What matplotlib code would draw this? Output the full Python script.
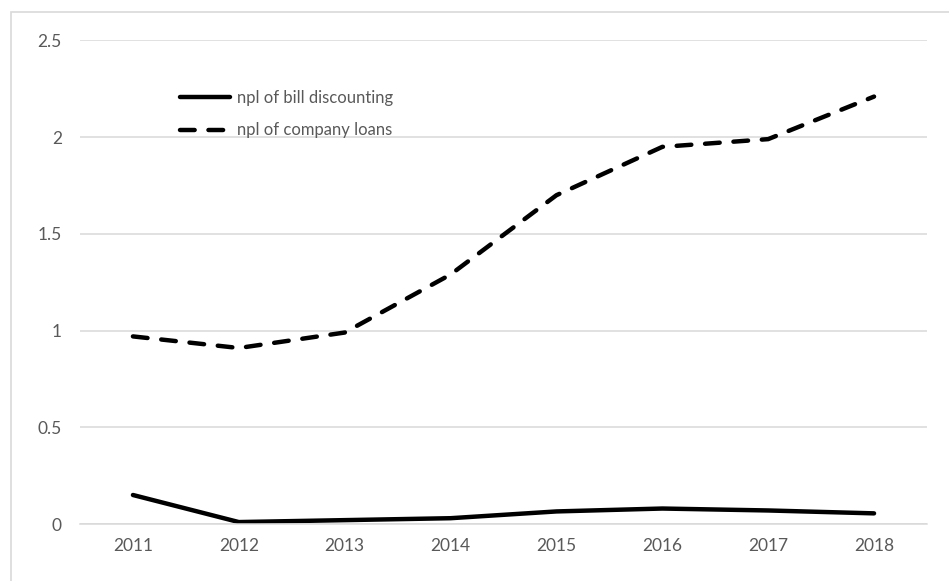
import numpy as np
import matplotlib.pyplot as plt
from matplotlib.patches import Rectangle

years = ["2011", "2012", "2013", "2014", "2015", "2016", "2017", "2018"]
bill_discounting = [0.15, 0.01, 0.02, 0.03, 0.065, 0.08, 0.07, 0.055]
company_loans = [0.97, 0.91, 0.99, 1.29, 1.70, 1.95, 1.99, 2.21]
y_ticks = [0, 0.5, 1, 1.5, 2, 2.5]
y_tick_labels = ["0", "0.5", "1", "1.5", "2", "2.5"]

TEXT = "#595959"
GRID = "#d9d9d9"


def main():
    plt.rcParams["font.family"] = ["Lato", "DejaVu Sans"]
    fig = plt.figure(figsize=(9.49, 5.81), dpi=100)
    ax = fig.add_axes([0.0843, 0.0981, 0.8925, 0.8322])

    # chart-area border (only top/left visible in the reference)
    fig.patches.append(Rectangle((11 / 949, -0.1), 1.2, (581 - 12) / 581 + 0.1,
                                 transform=fig.transFigure, fill=False,
                                 edgecolor=GRID, linewidth=1.2))

    x = np.arange(len(years))
    ax.plot(x, bill_discounting, color="black", lw=3.2,
            solid_capstyle="round", solid_joinstyle="round",
            label="npl of bill discounting")
    ax.plot(x, company_loans, color="black", lw=3.2, linestyle=(0, (3.3, 3.1)),
            dash_capstyle="round", label="npl of company loans")

    ax.set_xlim(-0.5, len(years) - 0.5)
    ax.set_ylim(0, 2.5)
    ax.set_xticks(x)
    ax.set_xticklabels(years)
    ax.set_yticks(y_ticks)
    ax.set_yticklabels(y_tick_labels)
    ax.tick_params(length=0, labelsize=12.5, colors=TEXT)
    ax.tick_params(axis="y", pad=13)
    ax.tick_params(axis="x", pad=10)
    ax.grid(axis="y", color=GRID, lw=1.1)
    ax.set_axisbelow(True)
    for s in ax.spines.values():
        s.set_visible(False)
    ax.spines["bottom"].set_visible(True)
    ax.spines["bottom"].set_color(GRID)
    ax.spines["bottom"].set_linewidth(1.1)

    leg = ax.legend(loc="upper left", bbox_to_anchor=(0.118, 0.898),
                    frameon=False, fontsize=12, handlelength=3.0,
                    handletextpad=0.45, labelspacing=1.0, borderpad=0,
                    borderaxespad=0)
    for t in leg.get_texts():
        t.set_color(TEXT)

    fig.savefig("out.png", dpi=100)


if __name__ == "__main__":
    main()
